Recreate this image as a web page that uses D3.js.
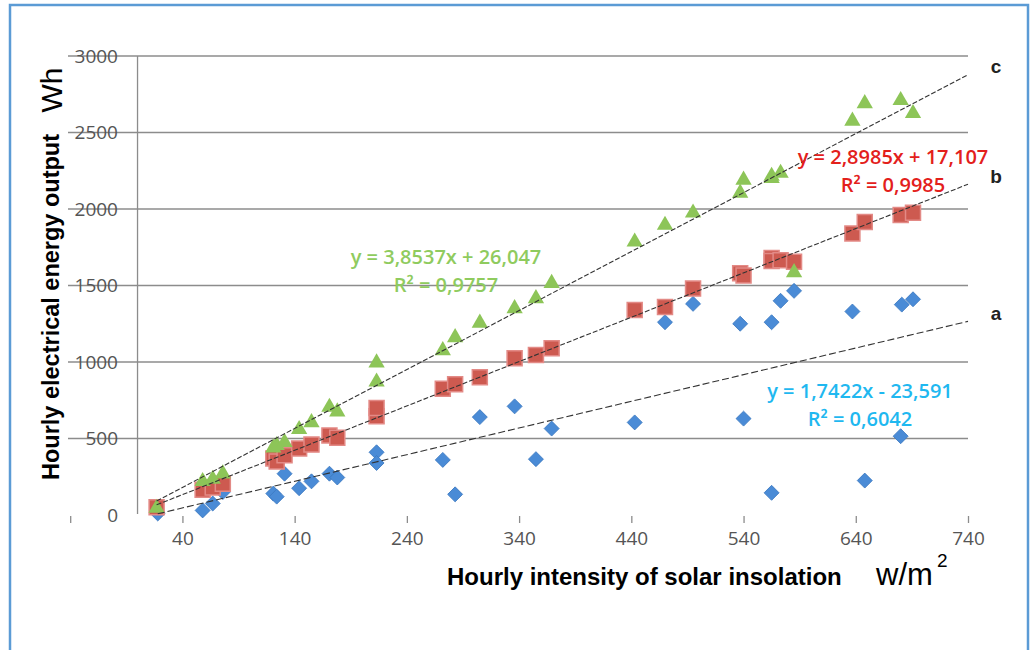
<!DOCTYPE html>
<html lang="en">
<head>
<meta charset="UTF-8">
<title>Hourly energy output vs solar insolation</title>
<script src="https://cdn.jsdelivr.net/npm/d3@7/dist/d3.min.js"></script>
<style>
  html, body { margin: 0; padding: 0; background: #fff; }
  svg { display: block; }
</style>
</head>
<body>
<svg id="chart" width="1033" height="650"></svg>
<script>
// axis ticks
var xTicks = [-60, 40, 140, 240, 340, 440, 540, 640, 740];
var xLabels = [40, 140, 240, 340, 440, 540, 640, 740];
var yTicks = [0, 500, 1000, 1500, 2000, 2500, 3000];

// series a (blue diamonds)
var aX = [18, 58, 67, 76, 121, 124, 131, 144, 155, 171, 178, 213, 213, 272, 283, 305, 336, 355, 369, 443, 470, 495, 537, 540, 565, 565, 573, 585, 637, 648, 680, 681, 691];
var aY = [10, 30, 75, 150, 140, 120, 270, 175, 220, 270, 245, 410, 340, 360, 135, 640, 710, 365, 565, 605, 1260, 1380, 1250, 630, 1260, 145, 1400, 1465, 1330, 225, 515, 1375, 1410];
// series b (red squares)
var bX = [17, 58, 67, 76, 121, 124, 131, 144, 155, 171, 178, 213, 213, 272, 283, 305, 336, 355, 369, 443, 470, 495, 537, 540, 565, 565, 573, 585, 637, 648, 680, 691];
var bY = [50, 165, 180, 205, 370, 350, 390, 435, 460, 520, 505, 645, 700, 825, 855, 900, 1025, 1045, 1090, 1340, 1360, 1480, 1580, 1565, 1680, 1660, 1665, 1655, 1840, 1915, 1960, 1975];
// series c (green triangles)
var cX = [17, 58, 67, 76, 121, 124, 131, 144, 155, 171, 178, 213, 213, 272, 283, 305, 336, 355, 369, 443, 470, 495, 537, 540, 565, 565, 573, 585, 637, 648, 680, 691];
var cY = [45, 220, 235, 270, 440, 455, 475, 560, 605, 705, 675, 870, 995, 1075, 1160, 1255, 1350, 1415, 1515, 1785, 1895, 1975, 2105, 2190, 2200, 2215, 2235, 1585, 2575, 2690, 2710, 2625];

// trendlines [slope, intercept]
var trendA = [1.7422, -23.591];
var trendB = [2.8985, 17.107];
var trendC = [3.8537, 26.047];
var trendEnd = 740;

var eqA = ["y = 1,7422x - 23,591", "R² = 0,6042"];
var eqB = ["y = 2,8985x + 17,107", "R² = 0,9985"];
var eqC = ["y = 3,8537x + 26,047", "R² = 0,9757"];

var svg = d3.select("#chart");

var x = d3.scaleLinear().domain([-60, 740]).range([70.2, 968]);
var y = d3.scaleLinear().domain([0, 3000]).range([515, 56]);

// outer frame
svg.append("rect")
  .attr("x", 10).attr("y", 5).attr("width", 1018).attr("height", 670)
  .attr("fill", "none").attr("stroke", "#5b9bd5").attr("stroke-width", 2.5);

// gridlines
svg.append("g").selectAll("line")
  .data(yTicks.filter(function(d) { return d > 0; }))
  .join("line")
  .attr("x1", 68).attr("x2", x(740))
  .attr("y1", function(d) { return y(d); }).attr("y2", function(d) { return y(d); })
  .attr("stroke", "#8c8c8c").attr("stroke-width", 1.3);

// y axis line at x = 0
svg.append("line")
  .attr("x1", x(0)).attr("x2", x(0)).attr("y1", y(3000)).attr("y2", y(0) - 1)
  .attr("stroke", "#8c8c8c").attr("stroke-width", 1.3);

// y tick labels
var yAxis = svg.append("g")
  .attr("transform", "translate(118,0)")
  .call(d3.axisLeft(y).tickValues(yTicks).tickSize(0).tickPadding(0).tickFormat(d3.format("d")));
yAxis.select(".domain").remove();
yAxis.selectAll("text")
  .attr("font-family", "Open Sans, sans-serif").attr("font-size", 19)
  .attr("fill", "#555");

// x axis ticks and labels
var xAxis = svg.append("g")
  .attr("transform", "translate(0," + (y(0) + 1) + ")")
  .call(d3.axisBottom(x).tickValues(xTicks).tickSize(7).tickPadding(9)
    .tickFormat(function(d) { return xLabels.indexOf(d) >= 0 ? d : ""; }));
xAxis.select(".domain").remove();
xAxis.selectAll("line").attr("stroke", "#8c8c8c").attr("stroke-width", 1.3);
xAxis.selectAll("text")
  .attr("font-family", "Open Sans, sans-serif").attr("font-size", 19)
  .attr("fill", "#555");

// markers
function points(xs, ys) {
  return xs.map(function(d, i) { return [d, ys[i]]; });
}

svg.append("g").selectAll("path")
  .data(points(aX, aY)).join("path")
  .attr("d", d3.symbol(d3.symbolSquare, 112))
  .attr("transform", function(d) { return "translate(" + x(d[0]) + "," + y(d[1]) + ") rotate(45)"; })
  .attr("fill", "#4a8bd6").attr("stroke", "#3b78c0").attr("stroke-width", 0.8);

svg.append("g").selectAll("path")
  .data(points(bX, bY)).join("path")
  .attr("d", d3.symbol(d3.symbolSquare, 225))
  .attr("transform", function(d) { return "translate(" + x(d[0]) + "," + y(d[1]) + ")"; })
  .attr("fill", "#cd5a50").attr("stroke", "#e38a86").attr("stroke-width", 1.5);

svg.append("g").selectAll("path")
  .data(points(cX, cY)).join("path")
  .attr("d", d3.symbol(d3.symbolTriangle, 115))
  .attr("transform", function(d) { return "translate(" + x(d[0]) + "," + y(d[1]) + ")"; })
  .attr("fill", "#8dc558");

// trendlines
var trends = [
  { t: trendA, xs: aX, dash: "7,3", name: "a" },
  { t: trendB, xs: bX, dash: "5,2", name: "b" },
  { t: trendC, xs: cX, dash: "5,2", name: "c" }
];
trends.forEach(function(tr) {
  var x0 = d3.min(tr.xs);
  var f = function(v) { return tr.t[0] * v + tr.t[1]; };
  svg.append("line")
    .attr("x1", x(x0)).attr("y1", y(f(x0)))
    .attr("x2", x(trendEnd)).attr("y2", y(f(trendEnd)))
    .attr("stroke", "#333").attr("stroke-width", 1.1)
    .attr("stroke-dasharray", tr.dash);
  svg.append("text")
    .attr("x", x(trendEnd) + 28).attr("y", y(f(trendEnd)) - 8)
    .attr("dy", "0.35em").attr("text-anchor", "middle")
    .attr("font-family", "Liberation Sans, Arial, sans-serif").attr("font-size", 19)
    .attr("font-weight", "bold").attr("fill", "#222")
    .text(tr.name);
});

// equations
function equation(lines, cx, cy, color) {
  var g = svg.append("g").attr("font-family", "Open Sans, sans-serif")
    .attr("font-size", 20).attr("font-weight", 600)
    .attr("fill", color).attr("text-anchor", "middle");
  lines.forEach(function(s, i) {
    g.append("text").attr("x", cx).attr("y", cy + i * 28).attr("dy", "0.35em").text(s);
  });
}
equation(eqC, 446, 257, "#8fcb5e");
equation(eqB, 893, 157, "#e3201b");
equation(eqA, 860, 391, "#1fb8f0");

// axis titles
svg.append("text")
  .attr("transform", "translate(51,307) rotate(-90)")
  .attr("text-anchor", "middle").attr("dy", "0.35em")
  .attr("font-family", "Liberation Sans, Arial, sans-serif")
  .attr("font-size", 23.5).attr("font-weight", "bold").attr("fill", "#000")
  .text("Hourly electrical energy output");
svg.append("text")
  .attr("transform", "translate(51,90) rotate(-90)")
  .attr("text-anchor", "middle").attr("dy", "0.35em")
  .attr("font-family", "Liberation Sans, Arial, sans-serif")
  .attr("font-size", 30).attr("fill", "#000")
  .text("Wh");

svg.append("text")
  .attr("x", 447).attr("y", 585)
  .attr("font-family", "Liberation Sans, Arial, sans-serif")
  .attr("font-size", 24).attr("font-weight", "bold").attr("fill", "#000")
  .text("Hourly intensity of solar insolation");
svg.append("text")
  .attr("x", 876).attr("y", 585)
  .attr("font-family", "Liberation Sans, Arial, sans-serif")
  .attr("font-size", 31).attr("fill", "#000")
  .text("w/m");
svg.append("text")
  .attr("x", 937).attr("y", 567)
  .attr("font-family", "Liberation Sans, Arial, sans-serif")
  .attr("font-size", 19).attr("fill", "#000")
  .text("2");
</script>
</body>
</html>
